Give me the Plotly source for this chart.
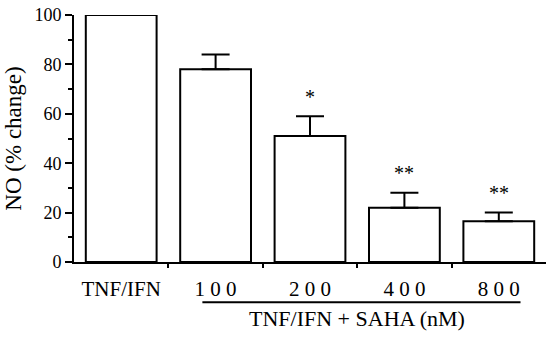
import plotly.graph_objects as go

categories = ["TNF/IFN", "100", "200", "400", "800"]
tick_labels = ["TNF/IFN", "1 0 0", "2 0 0", "4 0 0", "8 0 0"]
no_values = [100, 78, 51, 22, 16.5]
err_upper = [0, 6, 8, 6, 3.5]
signif = ["", "", "*", "**", "**"]

FONT = "Liberation Serif, Times New Roman, serif"

fig = go.Figure()
fig.add_trace(go.Bar(
    x=list(range(len(categories))), y=no_values, width=0.75,
    marker=dict(color="white", line=dict(color="black", width=2)),
    error_y=dict(type="data", array=err_upper, arrayminus=[0]*5, symmetric=False,
                 color="black", thickness=2, width=14),
    showlegend=False,
))

for i, (v, e, s) in enumerate(zip(no_values, err_upper, signif)):
    if s:
        fig.add_annotation(x=i, y=v + e + 8, text=s, showarrow=False,
                           font=dict(family=FONT, size=20, color="black"),
                           xanchor="center", yanchor="middle")

# group line under SAHA concentrations
fig.add_shape(type="line", xref="x", yref="paper", x0=0.86, x1=4.23, y0=-0.163, y1=-0.163,
              line=dict(color="black", width=2))
fig.add_annotation(xref="x", yref="paper", x=2.5, y=-0.228, text="TNF/IFN + SAHA (nM)",
                   showarrow=False, font=dict(family=FONT, size=22, color="black"),
                   xanchor="center", yanchor="middle")

fig.update_layout(
    width=546, height=337,
    margin=dict(l=74, r=0, t=15, b=75),
    paper_bgcolor="white", plot_bgcolor="white",
    font=dict(family=FONT, color="black"),
)
fig.update_xaxes(
    range=[-0.5, 4.5],
    tickvals=list(range(len(categories))), ticktext=tick_labels,
    ticks="", showline=True, linecolor="black", linewidth=2, showgrid=False, zeroline=False,
    tickfont=dict(family=FONT, size=21, color="black"),
    ticklabelstandoff=7,
    minor=dict(tickvals=[0.5, 1.5, 2.5, 3.5], ticks="outside", ticklen=4, tickwidth=2, tickcolor="black"),
)
fig.update_yaxes(
    range=[0, 100], tickvals=[0, 20, 40, 60, 80, 100],
    ticks="outside", ticklen=7, tickwidth=2, tickcolor="black",
    minor=dict(tickvals=[10, 30, 50, 70, 90], ticks="outside", ticklen=4, tickwidth=2, tickcolor="black"),
    showline=True, linecolor="black", linewidth=2, showgrid=False, zeroline=False,
    tickfont=dict(family=FONT, size=18, color="black"),
    ticklabeloverflow="allow",
    title=dict(text="NO (% change)", font=dict(family=FONT, size=23, color="black"), standoff=6),
)

fig.write_html("out.html", config={"displayModeBar": False},
               post_script="document.body.style.margin='0';")
